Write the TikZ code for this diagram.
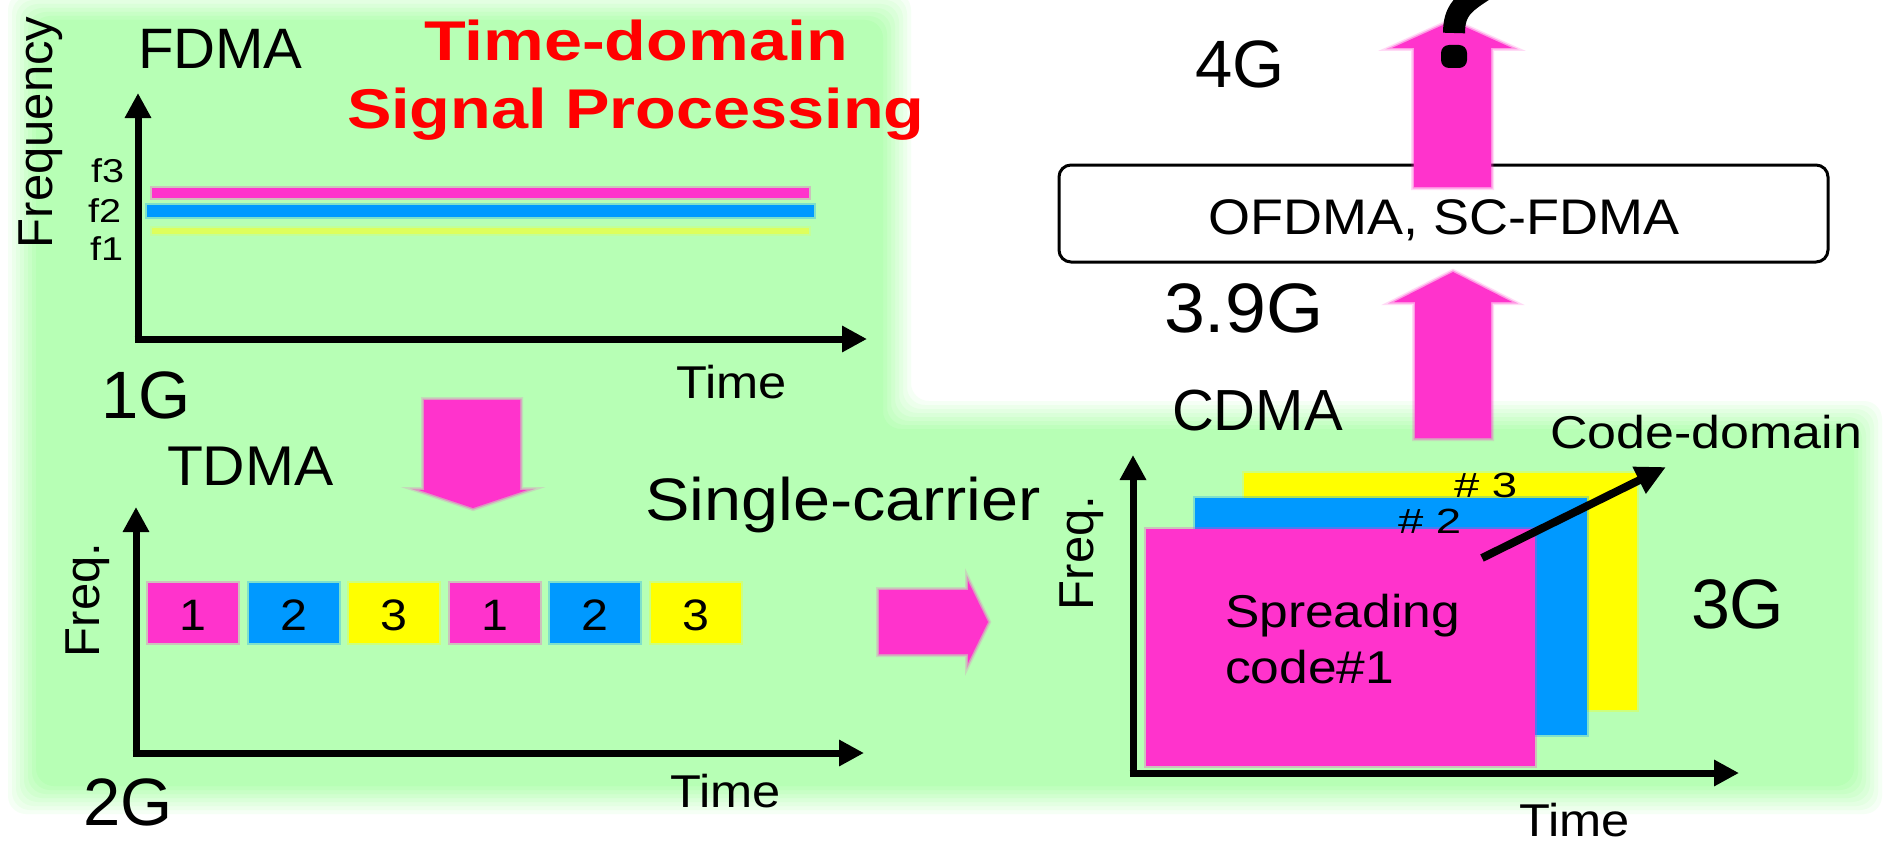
\documentclass[tikz,border=0pt]{standalone}
\usepackage{fontspec}
\setmainfont{Liberation Sans}
\usepackage{graphicx}
\usetikzlibrary{arrows.meta}

\definecolor{bggreen}{RGB}{183,255,181}
\definecolor{mag}{RGB}{255,51,204}
\definecolor{sky}{RGB}{0,153,255}
\definecolor{yel}{RGB}{255,255,0}
\definecolor{lime}{RGB}{222,255,92}
\definecolor{redtxt}{RGB}{255,0,0}

% text of a given size (px) and horizontal stretch
\newcommand{\stxt}[3]{{\fontsize{#1}{#1}\selectfont\scalebox{#2}[1]{#3}}}

\tikzset{
  lbl/.style={inner sep=0pt, outer sep=0pt, anchor=base west},
  axis/.style={line width=7pt, -{Triangle[length=25pt,width=25pt]}},
  soft/.style={preaction={draw=#1, line width=6pt, draw opacity=0.18},
               preaction={draw=#1, line width=3pt, draw opacity=0.4},
               fill=#1},
  lightsoft/.style={preaction={draw=#1, line width=4pt, draw opacity=0.3},
                    fill=#1},
  slot/.style={lightsoft=#1, minimum width=90pt, minimum height=60pt, inner sep=0pt},
  codebox/.style={draw, line width=3pt, rounded corners=12pt, fill=white,
                  minimum width=769pt, minimum height=97pt, inner sep=0pt},
}

\begin{document}
\begin{tikzpicture}[x=1pt, y=-1pt]
\clip (0,0) rectangle (1885,843);
\fill[white] (0,0) rectangle (1885,843);

% soft-edged green backdrop (L-shaped)
\foreach \i in {1,...,8} {
  \pgfmathsetmacro\d{-14+(\i-1)*4}
  \pgfmathsetmacro\op{1/(9-\i)}
  \fill[bggreen, opacity=\op, rounded corners=18pt]
    ({22+\d},{6+\d}) -- ({897-\d},{6+\d}) -- ({897-\d},{415+\d})
    -- ({1868-\d},{415+\d}) -- ({1868-\d},{800-\d}) -- ({22+\d},{800-\d}) -- cycle;
}

% ---------------- 1G : FDMA ----------------
\node[lbl, rotate=90] (freqA) at (52,248) {\stxt{49}{1}{Frequency}};
\node[lbl] (fdma) at (138,69) {\stxt{57}{1.02}{FDMA}};
\node[lbl, text=redtxt, font=\bfseries] (tdsp1) at (424,60) {\stxt{56}{1.22}{Time-domain}};
\node[lbl, text=redtxt, font=\bfseries] (tdsp2) at (347,128) {\stxt{56}{1.19}{Signal Processing}};

\node[lbl] (f3) at (91,182) {\stxt{33}{1.2}{f3}};
\node[lbl] (f2) at (88,222) {\stxt{33}{1.2}{f2}};
\node[lbl] (f1) at (90,260) {\stxt{33}{1.2}{f1}};

\fill[lightsoft=mag]  (152,188) rectangle (809,198);
\fill[lightsoft=sky]  (147,205) rectangle (814,217);
\fill[lightsoft=lime] (152,228) rectangle (809,234);

\coordinate (oA) at (138,339);
\coordinate (yA) at (138,93);
\coordinate (xA) at (867,339);
\draw[axis] ([yshift=-3.5pt]oA) -- (yA);
\draw[axis] ([xshift=-3.5pt]oA) -- (xA);
\node[lbl] (timeA) at (676,398) {\stxt{46}{1.1}{Time}};
\node[lbl] (g1) at (101,418) {\stxt{67}{1}{1G}};

% arrow 1G -> 2G
\fill[soft=mag] (424,400) -- (520,400) -- (520,490) -- (527,490) -- (473,508)
  -- (419,490) -- (424,490) -- cycle;

% ---------------- 2G : TDMA ----------------
\node[lbl] (tdma) at (167,485) {\stxt{56}{1.05}{TDMA}};
\node[lbl] (single) at (645,520) {\stxt{60}{1.11}{Single-carrier}};
\node[lbl, rotate=90] (freqB) at (99,657) {\stxt{49}{1}{Freq.}};

\coordinate (oB) at (136,753);
\coordinate (yB) at (136,507);
\coordinate (xB) at (864,753);
\draw[axis] ([yshift=-3.5pt]oB) -- (yB);
\draw[axis] ([xshift=-3.5pt]oB) -- (xB);

\foreach \k/\c/\n in {0/mag/1, 1/sky/2, 2/yel/3, 3/mag/1, 4/sky/2, 5/yel/3} {
  \node[slot=\c] (slot\k) at ({193+100.6*\k},613) {};
  \node[lbl, anchor=base] (num\k) at ({193+100.6*\k},630) {\stxt{44}{1.1}{\n}};
}

\node[lbl] (timeB) at (670,807) {\stxt{46}{1.1}{Time}};
\node[lbl] (g2) at (83,825) {\stxt{67}{1}{2G}};

% arrow 2G -> 3G
\fill[soft=mag] (879,590) -- (968,590) -- (968,581) -- (988,622) -- (968,663)
  -- (968,654) -- (879,654) -- cycle;

% ---------------- 3G : CDMA ----------------
\node[lbl] (cdma) at (1172,430) {\stxt{58}{1}{CDMA}};
\node[lbl] (codedom) at (1550,448) {\stxt{46}{1.13}{Code-domain}};
\node[lbl, rotate=90] (freqC) at (1093,610) {\stxt{49}{1}{Freq.}};

\fill[lightsoft=yel] (1244,473) rectangle (1637,710);
\fill[lightsoft=sky] (1195,498) rectangle (1587,735);
\fill[lightsoft=mag] (1146,529) rectangle (1535,766);

\coordinate (oC) at (1133,773);
\coordinate (yC) at (1133,455);
\coordinate (xC) at (1739,773);
\draw[axis] ([yshift=-3.5pt]oC) -- (yC);
\draw[axis] ([xshift=-3.5pt]oC) -- (xC);

\node[lbl] (c3) at (1454,497) {\stxt{35}{1.3}{\# 3}};
\node[lbl] (c2) at (1398,533) {\stxt{35}{1.3}{\# 2}};

\coordinate (cdA) at (1482,558);
\coordinate (cdB) at (1666,467);
\draw[line width=8pt, -{Triangle[length=30pt,width=28pt]}] (cdA) -- (cdB);

\node[lbl] (spread1) at (1225,627) {\stxt{46}{1.12}{Spreading}};
\node[lbl] (spread2) at (1225,683) {\stxt{46}{1.12}{code\#1}};
\node[lbl] (g3) at (1691,628) {\stxt{70}{1}{3G}};
\node[lbl] (timeC) at (1519,836) {\stxt{46}{1.1}{Time}};

% ---------------- 3.9G / 4G ----------------
\fill[soft=mag] (1415,438) -- (1415,302) -- (1394,302) -- (1453,272) -- (1512,302)
  -- (1491,302) -- (1491,438) -- cycle;
\node[lbl] (g39) at (1164,332) {\stxt{70}{1.05}{3.9G}};

\node[codebox] (ofdma) at (1443.5,213.5) {};
\node[lbl, anchor=base] (ofdmatxt) at (1444,234) {\stxt{50}{1.08}{OFDMA, SC-FDMA}};

\fill[soft=mag] (1414,187) -- (1414,48) -- (1392,48) -- (1452,21) -- (1512,48)
  -- (1491,48) -- (1491,187) -- cycle;
\node[lbl] (g4) at (1195,88) {\stxt{67}{1}{4G}};

% large question mark running off the top edge
\fill[black, rounded corners=8pt] (1441,45) rectangle (1467,68);
\draw[line width=22pt] (1454,33) .. controls (1454,10) and (1464,3) .. (1484,-10);
\end{tikzpicture}
\end{document}
